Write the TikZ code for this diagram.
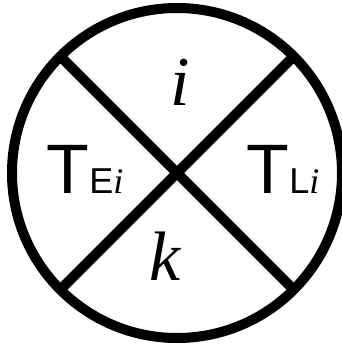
\documentclass[tikz,border=0pt]{standalone}
\usepackage{fontspec}
\setmainfont{Liberation Serif}
\setsansfont{Liberation Sans}
\usetikzlibrary{calc}
\newcommand{\bigT}{{\fontsize{70}{70}\selectfont\sffamily T}}
\newcommand{\subsf}[1]{{\fontsize{36}{36}\selectfont\sffamily #1}}
\newcommand{\subit}[1]{{\fontsize{36}{36}\selectfont\rmfamily\itshape #1}}
\tikzset{
  ring/.style={line width=10pt, black},
  cross line/.style={line width=10pt, black},
  letter/.style={font=\fontsize{70}{70}\selectfont\rmfamily\itshape, anchor=base, inner sep=0pt},
  sector/.style={anchor=base, inner sep=0pt}
}
\begin{document}
\begin{tikzpicture}[x=1pt, y=-1pt]
  \useasboundingbox (0,0) rectangle (341,345);
  % Circle
  \coordinate (c) at (177,173);
  \draw[ring] (c) circle (165);
  % Diagonals
  \coordinate (nw) at ($(c)+(-117,-117)$);
  \coordinate (ne) at ($(c)+(117,-117)$);
  \coordinate (sw) at ($(c)+(-117,117)$);
  \coordinate (se) at ($(c)+(117,117)$);
  \draw[cross line] (nw) -- (se);
  \draw[cross line] (ne) -- (sw);
  % Labels
  \node[letter] (top) at (180,105) {i};
  \node[letter] (bottom) at (165,280) {k};
  \node[sector] (left) at (85,193) {\bigT\subsf{E}\subit{i}};
  \node[sector] (right) at (283,193) {\bigT\subsf{L}\subit{i}};
\end{tikzpicture}
\end{document}
